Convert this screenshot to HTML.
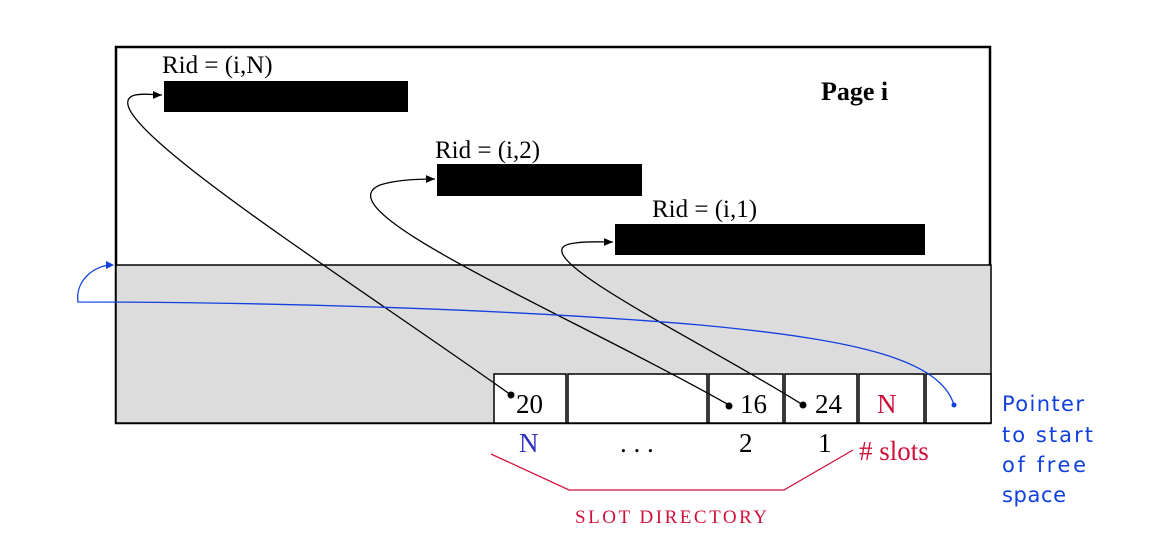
<!DOCTYPE html>
<html><head><style>body{margin:0;background:#fff}svg{display:block}</style></head><body>
<svg width="1155" height="536" xmlns="http://www.w3.org/2000/svg" font-family="Liberation Serif, serif">
<defs><marker id="a" markerWidth="8" markerHeight="8" refX="7" refY="4" orient="auto"><path d="M0,1 L7,4 L0,7z" fill="#000"/></marker></defs>
<rect x="116" y="47" width="874" height="376" fill="#fff" stroke="#000" stroke-width="2.5"/>
<rect x="116" y="265" width="875" height="158" fill="#dcdcdc" stroke="#000" stroke-width="1.5"/>
<g fill="#fff" stroke="#000" stroke-width="1.5">
<rect x="494" y="374" width="72" height="49"/><rect x="568" y="374" width="139" height="49"/>
<rect x="709" y="374" width="74" height="49"/><rect x="785" y="374" width="72" height="49"/>
<rect x="859" y="374" width="65" height="49"/><rect x="926" y="374" width="65" height="49"/>
</g>
<rect x="164" y="81" width="244" height="31"/>
<rect x="437" y="164" width="205" height="32"/>
<rect x="615" y="224" width="310" height="31"/>
<g font-size="25">
<text x="162" y="73">Rid = (i,N)</text>
<text x="435" y="158">Rid = (i,2)</text>
<text x="652" y="217">Rid = (i,1)</text>
<text x="821" y="100" font-weight="bold" font-size="26">Page i</text>
</g>
<g font-size="27">
<text x="516" y="413">20</text><text x="740" y="413">16</text><text x="815" y="413">24</text>
<text x="877" y="413" fill="#d0103a">N</text>
<text x="519" y="452" fill="#3030c0">N</text>
<text x="620" y="452">. . .</text>
<text x="739" y="452">2</text><text x="818" y="452">1</text>
<text x="859" y="460" fill="#d0103a"># slots</text>
</g>
<text x="575" y="523" font-size="19" fill="#d0103a" textLength="192">SLOT DIRECTORY</text>
<g fill="none" stroke="#000" stroke-width="1.3">
<path d="M511,395 C 350,280 80,110 135,95 C 145,93 152,95 162,95" marker-end="url(#a)"/>
<path d="M729,405 C 560,310 320,210 380,185 C 395,180 415,179 435,179" marker-end="url(#a)"/>
<path d="M803,405 C 700,340 510,250 575,243 C 590,241 600,242 613,242" marker-end="url(#a)"/>
</g>
<g fill="#000"><circle cx="511" cy="395" r="3.5"/><circle cx="729" cy="406" r="3.5"/><circle cx="803" cy="405" r="3.5"/></g>
<polyline points="491,454 569,490 784,490 853,450" fill="none" stroke="#d0103a" stroke-width="1.3"/>
<path d="M954,405 C 940,360 860,340 700,325 C 500,308 250,302 78,302 C 75,280 95,265 112,265" fill="none" stroke="#1040e0" stroke-width="1.3"/>
<path d="M106,261 L114,265 L106,269z" fill="#1040e0"/>
<circle cx="954" cy="405" r="2.5" fill="#1040e0"/>
<g font-family="DejaVu Sans, sans-serif" font-size="21" fill="#1040e0">
<text x="1002" y="411" textLength="82">Pointer</text><text x="1002" y="442" textLength="91">to start</text>
<text x="1002" y="472" textLength="84">of free</text><text x="1002" y="502" textLength="64">space</text>
</g>
</svg>
</body></html>
